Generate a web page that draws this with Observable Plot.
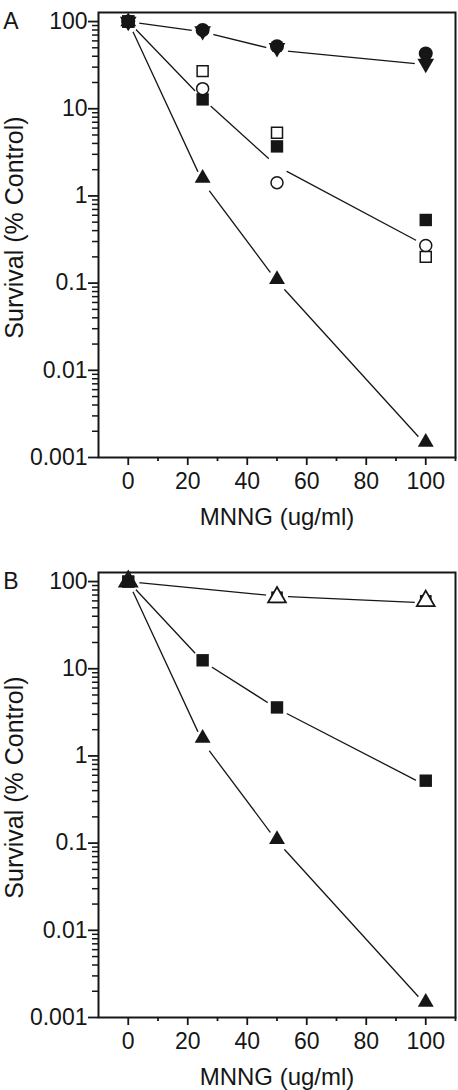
<!DOCTYPE html>
<html><head><meta charset="utf-8">
<script src="https://cdn.jsdelivr.net/npm/d3@7"></script>
<script src="https://cdn.jsdelivr.net/npm/@observablehq/plot@0.6"></script>
<style>
html,body{margin:0;padding:0;background:#fff;}
#chart svg{display:block;}
</style></head><body><div id="chart"></div>
<script>
// ---- data ----
const doseA = [0, 25, 50, 100];
const aCircleFilled = [100, 80, 52, 43];
const aTriDown = [100, 78, 50, 33];
const aSquareFilled = [100, 12.8, 3.7, 0.53];
const aSquareOpen = [100, 27, 5.3, 0.2];
const aCircleOpen = [100, 17, 1.42, 0.27];
const aTriUp = [100, 1.6, 0.11, 0.0015];
const aLineTop = [100, 76, 47, 32];
const aLineMid = [100, 13, 2.2, 0.27];
const aLineLow = [100, 1.45, 0.105, 0.0014];

const doseB = [0, 25, 50, 100];
const doseBTop = [0, 50, 100];
const bTriOpen = [100, 66, 60];
const bSquareUnder = [100, 66, 60];
const bSquareFilled = [100, 12.5, 3.6, 0.52];
const bTriUp = [100, 1.6, 0.11, 0.0015];
const bLineTop = [100, 68, 57];
const bLineMid = [100, 12.2, 3.5, 0.46];
const bLineLow = [100, 1.45, 0.105, 0.0014];

const xTicksMajor = [0, 20, 40, 60, 80, 100];
const xTicksMinor = [10, 30, 50, 70, 90, 110];
const yTicksMajor = [0.001, 0.01, 0.1, 1, 10, 100];
const yTickLabels = ["0.001", "0.01", "0.1", "1", "10", "100"];
const yMinorSteps = [2, 3, 4, 5, 6, 7, 8, 9];
const xTitle = "MNNG (ug/ml)";
const yTitle = "Survival (% Control)";

// ---- helpers ----
const yTicksMinor = yTicksMajor.slice(0, -1).flatMap(d => yMinorSteps.map(k => d * k));
const rows = (xs, ys, s) => xs.map((x, i) => ({dose: x, v: ys[i], s}));
const triangleDown = {
  draw(context, size) {
    const s3 = Math.sqrt(3);
    const y = Math.sqrt(size / (s3 * 3));
    context.moveTo(0, y * 2);
    context.lineTo(-s3 * y, -y);
    context.lineTo(s3 * y, -y);
    context.closePath();
  }
};
const ink = "#161616";
const font = "'Liberation Sans', Arial, Helvetica, sans-serif";

function panel({height, marginTop, marginBottom, letter, lines, markers}) {
  const lineRows = lines.flatMap((l, i) => rows(l.x, l.y, "L" + i));
  return Plot.plot({
    width: 458, height, marginLeft: 98, marginRight: 3, marginTop, marginBottom,
    style: {fontFamily: font, fontSize: "23px", color: ink, background: "white", overflow: "visible"},
    x: {domain: [-10, 110], axis: null},
    y: {type: "log", domain: [0.001, 127], axis: null},
    marks: [
      Plot.line(lineRows, {x: "dose", y: "v", z: "s", stroke: ink, strokeWidth: 1.3}),
      Plot.dot(lineRows, {x: "dose", y: "v", r: 11, fill: "white", stroke: null}),
      Plot.frame({stroke: ink, strokeWidth: 2}),
      Plot.axisX(xTicksMajor, {tickSize: 8, tickPadding: 7, strokeWidth: 1.8, label: null, fontSize: 23}),
      Plot.axisX(xTicksMinor, {tickSize: 4, strokeWidth: 1.8, fill: "none", label: null}),
      Plot.axisY(yTicksMajor, {tickSize: 10, tickPadding: 1, strokeWidth: 1.8, label: null, fontSize: 23,
        tickFormat: d => yTickLabels[yTicksMajor.indexOf(d)]}),
      Plot.axisY(yTicksMinor, {tickSize: 6, strokeWidth: 1.5, fill: "none", label: null}),
      ...markers.map(m => Plot.dot(rows(m.x, m.y, m.name), {
        x: "dose", y: "v", symbol: m.symbol, r: m.r, fill: m.fill,
        stroke: m.stroke ?? null, strokeWidth: m.strokeWidth ?? 1
      })),
      Plot.text([xTitle], {frameAnchor: "bottom", text: d => d, dy: 60, textAnchor: "middle",
        lineAnchor: "middle", fontSize: "24px", fill: ink}),
      Plot.text([yTitle], {frameAnchor: "left", text: d => d, rotate: -90, dx: -84, dy: -7.5,
        textAnchor: "middle", lineAnchor: "middle", fontSize: "25px", fill: ink}),
      Plot.text([letter], {frameAnchor: "top-left", text: d => d, dx: -87.5, dy: 9,
        textAnchor: "middle", lineAnchor: "middle", fontSize: "23px", fill: ink})
    ]
  });
}

const chartA = panel({
  height: 540, marginTop: 12, marginBottom: 83, letter: "A",
  lines: [{x: doseA, y: aLineTop}, {x: doseA, y: aLineMid}, {x: doseA, y: aLineLow}],
  markers: [
    {name: "sqOpen", x: doseA, y: aSquareOpen, symbol: "square", r: 6.2, fill: "white", stroke: ink, strokeWidth: 1.5},
    {name: "sqFilled", x: doseA, y: aSquareFilled, symbol: "square", r: 7, fill: ink},
    {name: "circOpen", x: doseA, y: aCircleOpen, symbol: "circle", r: 6, fill: "white", stroke: ink, strokeWidth: 1.5},
    {name: "triDown", x: doseA, y: aTriDown, symbol: triangleDown, r: 6.2, fill: ink},
    {name: "circFilled", x: doseA, y: aCircleFilled, symbol: "circle", r: 7, fill: ink},
    {name: "triUp", x: doseA, y: aTriUp, symbol: "triangle", r: 5.9, fill: ink}
  ]
});

const chartB = panel({
  height: 550, marginTop: 32, marginBottom: 73, letter: "B",
  lines: [{x: doseBTop, y: bLineTop}, {x: doseB, y: bLineMid}, {x: doseB, y: bLineLow}],
  markers: [
    {name: "sqUnder", x: doseBTop, y: bSquareUnder, symbol: "square", r: 6.6, fill: ink},
    {name: "triOpen", x: doseBTop, y: bTriOpen, symbol: "triangle", r: 6.6, fill: "white", stroke: ink, strokeWidth: 1.8},
    {name: "sqFilled", x: doseB, y: bSquareFilled, symbol: "square", r: 7, fill: ink},
    {name: "triUp", x: doseB, y: bTriUp, symbol: "triangle", r: 5.9, fill: ink}
  ]
});

document.getElementById("chart").append(chartA, chartB);
</script>
</body></html>
